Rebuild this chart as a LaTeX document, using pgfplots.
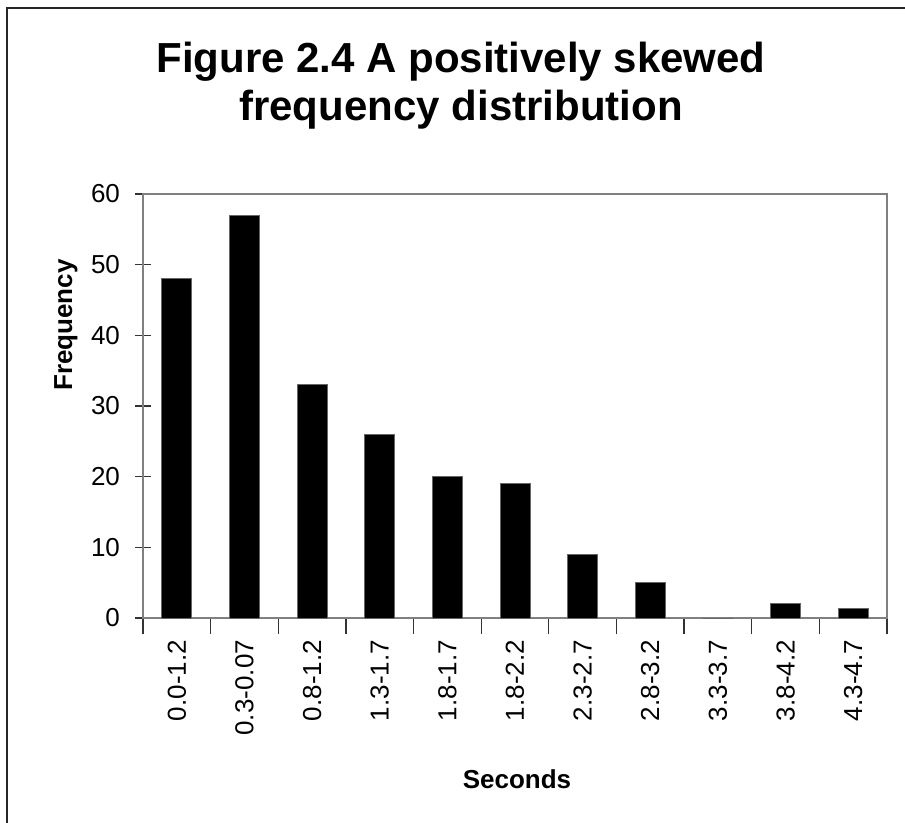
\documentclass[border=0pt]{standalone}
\usepackage{pgfplots}
\pgfplotsset{compat=1.18}
\usepackage{fontspec}
\setmainfont{Liberation Sans}
\definecolor{framegray}{HTML}{808080}
\definecolor{tickdark}{HTML}{333333}

\begin{document}
\begin{tikzpicture}
  % page area
  \useasboundingbox (0pt,0pt) rectangle (452.5pt,-411.5pt);
  \clip (0pt,0pt) rectangle (452.5pt,-411.5pt);
  % chart frame (runs past the right and bottom edges)
  \draw[line width=1pt, black!85] (3.5pt,-4pt) rectangle (470pt,-430pt);

  \begin{axis}[
    at={(71.5pt,-309pt)}, anchor=south west,
    scale only axis, width=372pt, height=212pt,
    xmin=-0.5, xmax=10.5, ymin=0, ymax=60,
    axis line style={draw=framegray, line width=1pt},
    xtick pos=bottom, ytick pos=left,
    ytick={0,10,...,60},
    xtick={0,...,10},
    xticklabels={0.0-1.2,0.3-0.07,0.8-1.2,1.3-1.7,1.8-1.7,1.8-2.2,2.3-2.7,2.8-3.2,3.3-3.7,3.8-4.2,4.3-4.7},
    minor xtick={-0.5,0.5,...,10.5},
    major x tick style={draw=none},
    minor x tick style={draw=tickdark, line width=0.6pt},
    y tick style={draw=tickdark, line width=0.6pt},
    tick align=center,
    major tick length=8pt, minor tick length=8pt,
    xticklabel style={rotate=90, anchor=east, font=\fontsize{13}{15}\selectfont},
    xticklabel shift=-0.5pt,
    yticklabel style={font=\fontsize{13}{15}\selectfont},
    yticklabel shift=4pt,
    /pgf/number format/assume math mode=true,
    ybar, bar width=15pt,
    clip=false,
  ]
    \addplot[fill=black, draw=black!60, line width=0.4pt] coordinates {
      (0,48) (1,57) (2,33) (3,26) (4,20) (5,19)
      (6,9) (7,5) (8,0) (9,2) (10,1.4)
    };
  \end{axis}

  % title and axis names
  \node[align=center, font=\bfseries\fontsize{21}{24}\selectfont]
    at (230.5pt,-43pt) {Figure 2.4 A positively skewed\\frequency distribution};
  \node[rotate=90, font=\bfseries\fontsize{13}{15}\selectfont]
    at (33pt,-162.5pt) {Frequency};
  \node[font=\bfseries\fontsize{13}{15}\selectfont]
    at (258.5pt,-389.5pt) {Seconds};
\end{tikzpicture}
\end{document}
